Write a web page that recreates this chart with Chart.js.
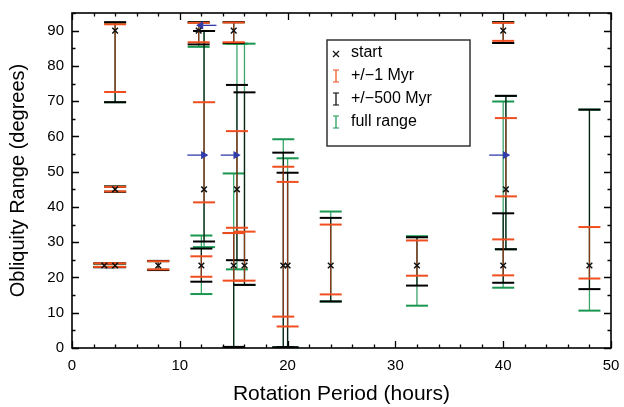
<!DOCTYPE html>
<html lang="en">
<head>
<meta charset="utf-8">
<title>Obliquity range vs rotation period</title>
<script src="https://cdn.jsdelivr.net/npm/chart.js@4.4.0/dist/chart.umd.min.js"></script>
<style>
    html, body { margin: 0; padding: 0; background: #fff; }
    #wrap { width: 624px; height: 407px; }
</style>
</head>
<body>
<div id="wrap"><canvas id="myChart" width="624" height="407"></canvas></div>

<script>
    // rotation period of each bar (hours); bars sharing a period are drawn a little apart
    const periods = [3, 4, 4, 4, 8, 11.75, 12.25, 12, 15, 15.3, 15, 16, 19.6, 20, 24, 32, 40, 40.25, 40, 48];
    // starting obliquity (degrees)
    const starts = [23.4, 23.4, 45, 90, 23.4, 90, 45, 23.4, 90, 45, 23.4, 23.4, 23.4, 23.4, 23.4, 23.4, 90, 45, 23.4, 23.4];

    // +/-1 Myr range
    const redLo = [23.0, 23.0, 44.4, 72.6, 22.3, 86.7, 41.3, 20.2, 86.7, 34.1, 19.1, 19.1, 8.9, 6.1, 15.2, 20.5, 87.1, 43.0, 20.6, 19.7];
    const redHi = [24.0, 24.0, 45.7, 91.8, 24.6, 92.2, 69.7, 26.0, 92.3, 61.5, 32.6, 33.0, 51.4, 47.1, 35.0, 30.5, 92.2, 65.2, 30.8, 34.3];
    // +/-500 Myr range
    const blackLo = [22.9, 22.9, 44.3, 69.7, 22.1, 86.1, 30.2, 18.8, 86.5, 24.9, 0.3, 17.9, 0.2, 0.2, 13.2, 17.7, 86.5, 28.0, 18.5, 16.7];
    const blackHi = [24.0, 24.0, 45.8, 92.4, 24.7, 92.4, 89.9, 28.2, 92.4, 74.6, 32.6, 72.5, 55.4, 49.7, 36.9, 31.4, 92.4, 71.5, 38.2, 67.6];
    // full range
    const greenLo = [23.0, 23.0, 44.3, 69.7, 22.2, 85.4, 28.6, 15.3, 86.3, 22.3, 0.3, 17.9, 0.2, 0.2, 13.2, 12.0, 86.5, 28.0, 17.1, 10.6];
    const greenHi = [23.9, 23.9, 45.8, 92.2, 24.6, 92.3, 89.9, 31.9, 92.4, 86.3, 49.5, 86.3, 59.2, 53.8, 38.7, 31.7, 92.4, 71.5, 69.9, 67.6];

    // blue arrows
    const arrowFrom = [10.7, 13.8, 38.7, 13.4];
    const arrowTo = [12.2, 15.2, 40.2, 11.95];
    const arrowY = [54.7, 54.7, 54.7, 91.5];

    const xTicks = [0, 10, 20, 30, 40, 50];

    const RED = 'rgb(240,78,30)';
    const BLACK = 'rgb(0,0,0)';
    const GREEN = 'rgb(25,150,80)';
    const BLUE = 'rgb(50,60,170)';

    let rangeSets = (lo, hi, lineColor, capColor) => periods.map((p, i) => ({
        type: 'line',
        data: [{x: p, y: lo[i]}, {x: p, y: hi[i]}],
        borderColor: lineColor,
        borderWidth: 1.3,
        pointStyle: 'line',
        pointRadius: 11,
        pointBorderColor: capColor,
        pointBorderWidth: 2,
        showLine: true
    }));

    let datasets = [];
    // start points on top
    datasets.push({
        type: 'scatter',
        data: periods.map((p, i) => ({x: p, y: starts[i]})),
        pointStyle: 'crossRot',
        pointRadius: 4,
        borderColor: '#111',
        pointBorderWidth: 1.5,
        showLine: false
    });
    arrowFrom.forEach((a, i) => {
        datasets.push({
            type: 'line',
            data: [{x: a, y: arrowY[i]}, {x: arrowTo[i], y: arrowY[i]}],
            borderColor: BLUE,
            borderWidth: 1.3,
            pointStyle: 'triangle',
            pointRadius: [0, 3.5],
            pointRotation: arrowTo[i] > a ? 90 : 270,
            pointBackgroundColor: BLUE,
            pointBorderColor: BLUE,
            showLine: true
        });
    });
    datasets = datasets.concat(
        rangeSets(redLo, redHi, 'rgba(240,78,30,0.55)', RED),
        rangeSets(blackLo, blackHi, 'rgba(0,0,0,0.8)', BLACK),
        rangeSets(greenLo, greenHi, 'rgba(25,150,80,0.85)', GREEN)
    );

    // inward ticks on all four sides plus the frame
    const frameTicks = {
        id: 'frameTicks',
        afterDraw(chart) {
            const {ctx, chartArea: a, scales} = chart;
            ctx.save();
            ctx.strokeStyle = '#000';
            ctx.lineWidth = 1.3;
            ctx.beginPath();
            for (let v = 0; v <= 50; v += 2) {
                const px = Math.round(scales.x.getPixelForValue(v)) + 0.5;
                const len = v % 10 === 0 ? 7 : 3.5;
                ctx.moveTo(px, a.bottom); ctx.lineTo(px, a.bottom - len);
                ctx.moveTo(px, a.top); ctx.lineTo(px, a.top + len);
            }
            for (let v = 0; v <= 95; v += 5) {
                const py = Math.round(scales.y.getPixelForValue(v)) + 0.5;
                const len = v % 10 === 0 ? 7 : 3.5;
                ctx.moveTo(a.left, py); ctx.lineTo(a.left + len, py);
                ctx.moveTo(a.right, py); ctx.lineTo(a.right - len, py);
            }
            ctx.stroke();
            ctx.lineWidth = 1.6;
            ctx.strokeRect(a.left, a.top, a.right - a.left, a.bottom - a.top);
            ctx.restore();
        }
    };

    // boxed legend inside the plot
    const boxLegend = {
        id: 'boxLegend',
        afterDraw(chart) {
            const {ctx, chartArea: a} = chart;
            const x0 = a.left + 255, y0 = a.top + 27;
            ctx.save();
            ctx.fillStyle = '#fff';
            ctx.fillRect(x0, y0, 143, 106);
            ctx.strokeStyle = '#333';
            ctx.lineWidth = 1.5;
            ctx.strokeRect(x0, y0, 143, 106);

            const rows = [
                {label: 'start', color: '#111', kind: 'x'},
                {label: '+/\u22121 Myr', color: RED, kind: 'bar'},
                {label: '+/\u2212500 Myr', color: BLACK, kind: 'bar'},
                {label: 'full range', color: GREEN, kind: 'bar'}
            ];
            ctx.font = '16px "Liberation Sans", Arial, sans-serif';
            ctx.textBaseline = 'middle';
            rows.forEach((r, i) => {
                const cy = y0 + 13 + i * 23;
                const ix = x0 + 9;
                ctx.strokeStyle = r.color;
                ctx.lineWidth = 1.2;
                ctx.beginPath();
                if (r.kind === 'x') {
                    ctx.moveTo(ix - 3, cy - 2); ctx.lineTo(ix + 3, cy + 4);
                    ctx.moveTo(ix + 3, cy - 2); ctx.lineTo(ix - 3, cy + 4);
                } else {
                    ctx.moveTo(ix - 3, cy - 6); ctx.lineTo(ix + 3, cy - 6);
                    ctx.moveTo(ix, cy - 6); ctx.lineTo(ix, cy + 6);
                    ctx.moveTo(ix - 3, cy + 6); ctx.lineTo(ix + 3, cy + 6);
                }
                ctx.stroke();
                ctx.fillStyle = '#000';
                ctx.fillText(r.label, x0 + 24, cy);
            });
            ctx.restore();
        }
    };

    const tickFont = {family: '"Liberation Sans", Arial, sans-serif', size: 15};

    const myChart = new Chart(document.getElementById('myChart').getContext('2d'), {
        type: 'line',
        data: {datasets: datasets},
        options: {
            responsive: false,
            animation: false,
            layout: {padding: {top: 11, right: 12, left: 0, bottom: 0}},
            plugins: {
                legend: {display: false},
                tooltip: {enabled: false}
            },
            scales: {
                x: {
                    type: 'linear',
                    min: 0,
                    max: 50,
                    afterBuildTicks: scale => { scale.ticks = xTicks.map(v => ({value: v})); },
                    afterFit: scale => {
                        scale.height = 59;
                        scale.paddingLeft = 0;
                        scale.paddingRight = 0;
                    },
                    grid: {display: false, drawTicks: false},
                    border: {display: false},
                    ticks: {font: tickFont, color: '#000', padding: 9, maxRotation: 0},
                    title: {
                        display: true, text: 'Rotation Period (hours)', color: '#000',
                        font: {family: '"Liberation Sans", Arial, sans-serif', size: 21},
                        padding: {top: 0, bottom: 0}
                    }
                },
                y: {
                    type: 'linear',
                    min: 0,
                    max: 95,
                    afterFit: scale => {
                        scale.width = 72;
                        scale.paddingTop = 0;
                        scale.paddingBottom = 0;
                    },
                    grid: {display: false, drawTicks: false},
                    border: {display: false},
                    ticks: {stepSize: 10, includeBounds: false, font: tickFont, color: '#000', padding: 8},
                    title: {
                        display: true, text: 'Obliquity Range (degrees)', color: '#000',
                        font: {family: '"Liberation Sans", Arial, sans-serif', size: 20},
                        padding: {top: 6, bottom: 0}
                    }
                }
            }
        },
        plugins: [frameTicks, boxLegend]
    });
</script>
</body>
</html>
